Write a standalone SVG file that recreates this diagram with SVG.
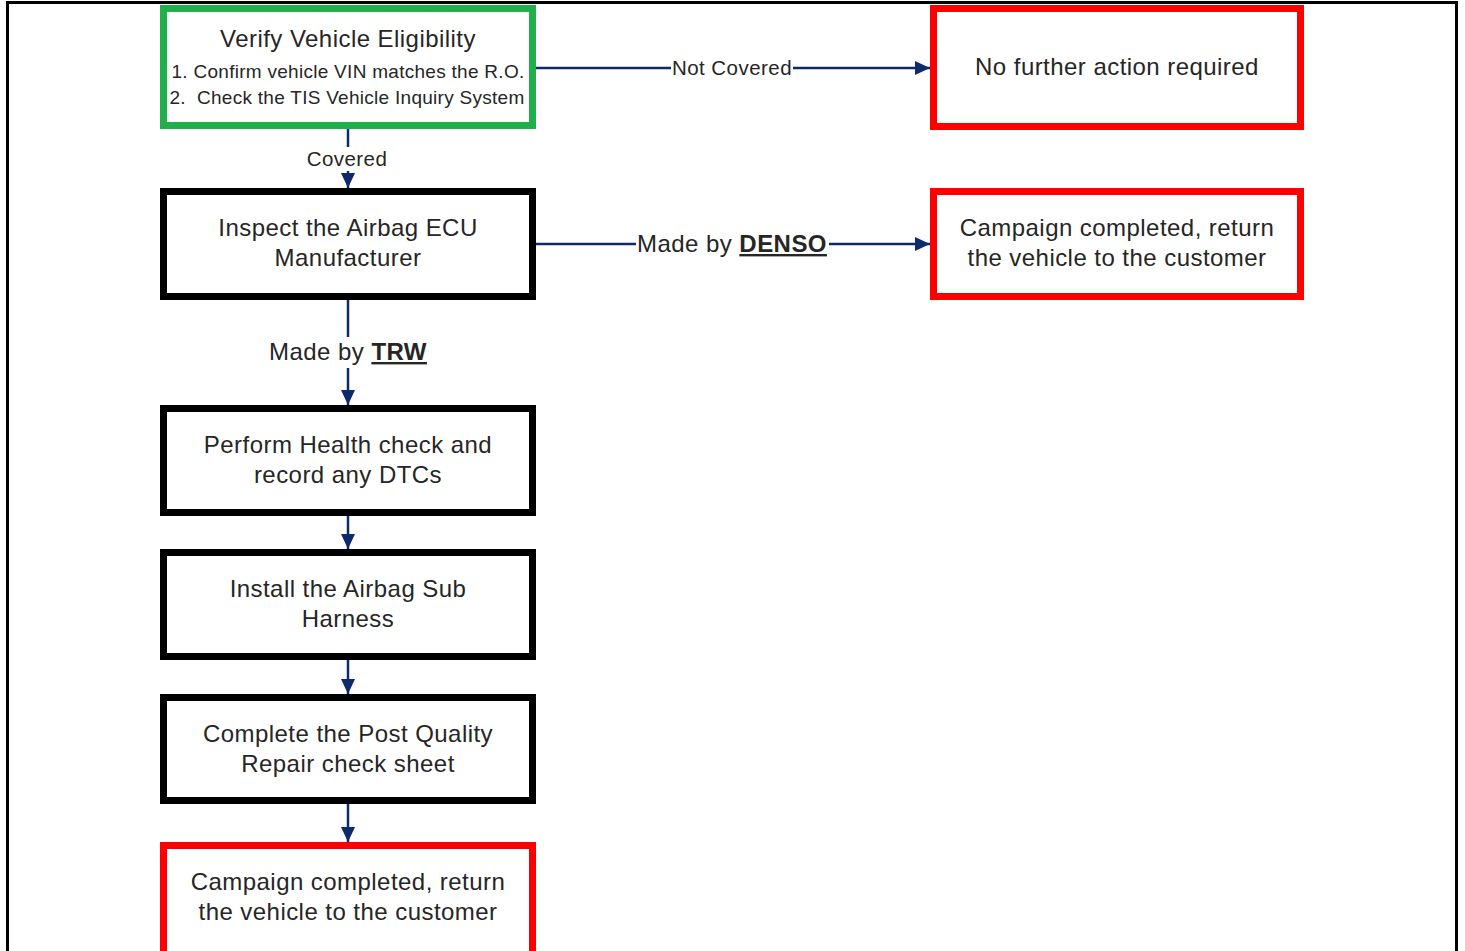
<svg xmlns="http://www.w3.org/2000/svg" width="1465" height="951" viewBox="0 0 1465 951">
<style>
.box{fill:#fff;stroke-width:7}
.blk{stroke:#000}
.red{stroke:#ff0000}
.grn{stroke:#1fb04c}
text{font-family:"Liberation Sans",Arial,sans-serif;fill:#262626;text-anchor:middle;white-space:pre}
.t{font-size:24px;letter-spacing:0.45px}
.s{font-size:19px;letter-spacing:0.28px}
.l{font-size:20.5px;letter-spacing:0.45px}
.c{stroke:#0f2a6b;stroke-width:2.5;fill:none}
.bg{fill:#fff}
</style>
<defs>
<marker id="ah" markerUnits="userSpaceOnUse" markerWidth="15" markerHeight="14" refX="15" refY="7" orient="auto">
<path d="M0,0 L15,7 L0,14 z" fill="#0f2a6b"/>
</marker>
</defs>
<rect x="0" y="0" width="1465" height="951" fill="#fff"/>
<rect id="frame" x="7.5" y="2.5" width="1449" height="970" fill="none" stroke="#000" stroke-width="3"/>
<g id="connectors">
<line class="c" x1="536" y1="68" x2="930" y2="68" marker-end="url(#ah)"/>
<rect class="bg" x="671" y="57" width="122" height="22"/>
<text class="l" x="732" y="75">Not Covered</text>
<line class="c" x1="536" y1="244" x2="930" y2="244" marker-end="url(#ah)"/>
<rect class="bg" x="636" y="230" width="193" height="28"/>
<text class="t" x="732" y="252">Made by <tspan font-weight="bold" text-decoration="underline">DENSO</tspan></text>
<line class="c" x1="348" y1="129" x2="348" y2="188" marker-end="url(#ah)"/>
<rect class="bg" x="300" y="147" width="96" height="24"/>
<text class="l" x="347" y="166">Covered</text>
<line class="c" x1="348" y1="300" x2="348" y2="405" marker-end="url(#ah)"/>
<rect class="bg" x="264" y="337" width="168" height="31"/>
<text class="t" x="348" y="360">Made by <tspan font-weight="bold" text-decoration="underline">TRW</tspan></text>
<line class="c" x1="348" y1="516" x2="348" y2="549" marker-end="url(#ah)"/>
<line class="c" x1="348" y1="660" x2="348" y2="694" marker-end="url(#ah)"/>
<line class="c" x1="348" y1="804" x2="348" y2="842" marker-end="url(#ah)"/>
</g>
<g id="verify">
<rect class="box grn" x="163.5" y="8.5" width="369" height="117"/>
<text class="t" x="348" y="47">Verify Vehicle Eligibility</text>
<text class="s" x="348" y="78">1. Confirm vehicle VIN matches the R.O.</text>
<text class="s" x="347" y="104" xml:space="preserve">2.  Check the TIS Vehicle Inquiry System</text>
</g>
<g id="no-action">
<rect class="box red" x="933.5" y="8.5" width="367" height="118"/>
<text class="t" x="1117" y="75">No further action required</text>
</g>
<g id="inspect">
<rect class="box blk" x="163.5" y="191.5" width="369" height="105"/>
<text class="t" x="348" y="236">Inspect the Airbag ECU</text>
<text class="t" x="348" y="266">Manufacturer</text>
</g>
<g id="complete-denso">
<rect class="box red" x="933.5" y="191.5" width="367" height="105"/>
<text class="t" x="1117" y="236">Campaign completed, return</text>
<text class="t" x="1117" y="266">the vehicle to the customer</text>
</g>
<g id="health">
<rect class="box blk" x="163.5" y="408.5" width="369" height="104"/>
<text class="t" x="348" y="453">Perform Health check and</text>
<text class="t" x="348" y="483">record any DTCs</text>
</g>
<g id="install">
<rect class="box blk" x="163.5" y="552.5" width="369" height="104"/>
<text class="t" x="348" y="597">Install the Airbag Sub</text>
<text class="t" x="348" y="627">Harness</text>
</g>
<g id="post-quality">
<rect class="box blk" x="163.5" y="697.5" width="369" height="103"/>
<text class="t" x="348" y="742">Complete the Post Quality</text>
<text class="t" x="348" y="772">Repair check sheet</text>
</g>
<g id="complete-trw">
<rect class="box red" x="163.5" y="845.5" width="369" height="110"/>
<text class="t" x="348" y="890">Campaign completed, return</text>
<text class="t" x="348" y="920">the vehicle to the customer</text>
</g>
</svg>
